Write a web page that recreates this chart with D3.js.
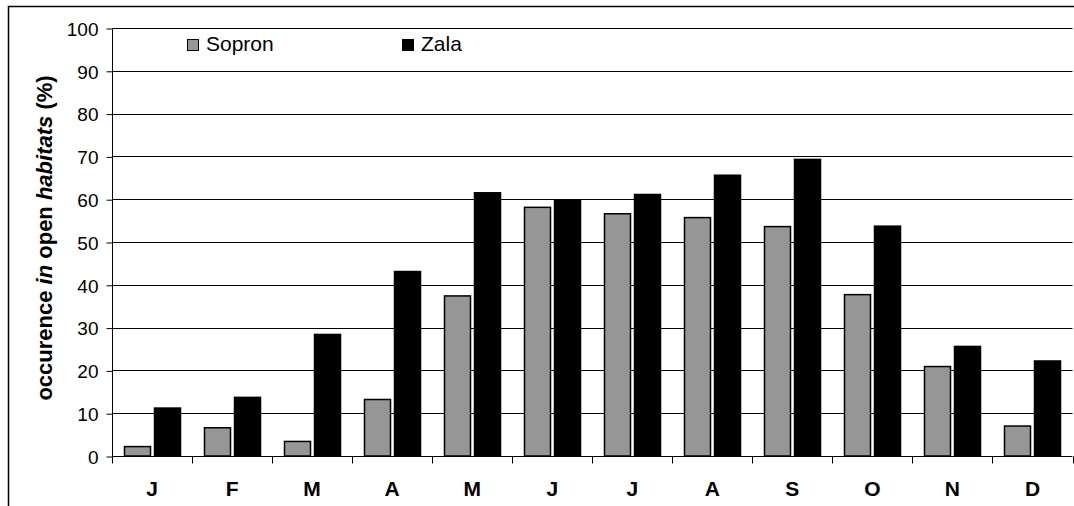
<!DOCTYPE html>
<html>
<head>
<meta charset="utf-8">
<script src="https://cdn.jsdelivr.net/npm/d3@7"></script>
<style>
    body { margin: 0; background: #fff; }
    text { font-family: "Liberation Sans", Arial, sans-serif; }
</style>
</head>
<body>
<svg id="chart"></svg>
<script>
(function () {

    // Data
    const months = ["J", "F", "M", "A", "M", "J", "J", "A", "S", "O", "N", "D"];
    const sopron = [2.2, 6.6, 3.4, 13.2, 37.4, 58.1, 56.6, 55.7, 53.6, 37.7, 20.9, 7.0];
    const zala = [11.2, 13.7, 28.4, 43.1, 61.5, 59.8, 61.1, 65.6, 69.3, 53.7, 25.6, 22.2];
    const seriesNames = ["Sopron", "Zala"];
    const seriesColors = ["#969696", "#000000"];
    const yTicks = [0, 10, 20, 30, 40, 50, 60, 70, 80, 90, 100];

    // Size & margins
    const width = 1074,
        height = 506;
    const margin = { left: 112, right: 1.5, top: 28, bottom: 50 };

    const svg = d3.select("#chart")
        .attr("width", width)
        .attr("height", height);

    // outer frame (cropped at right / bottom)
    svg.append("rect")
        .attr("x", 8.5)
        .attr("y", 6.5)
        .attr("width", 1080)
        .attr("height", 520)
        .attr("fill", "none")
        .attr("stroke", "#000")
        .attr("stroke-width", 1.5);

    const x = d3.scaleBand()
        .domain(d3.range(months.length))
        .range([margin.left, width - margin.right]);

    const y = d3.scaleLinear()
        .domain([0, 100])
        .range([height - margin.bottom, margin.top]);

    // gridlines
    svg.append("g")
        .selectAll("line")
        .data(yTicks.filter(d => d > 0))
        .enter().append("line")
        .attr("x1", margin.left)
        .attr("x2", width - margin.right)
        .attr("y1", d => Math.round(y(d)) + 0.5)
        .attr("y2", d => Math.round(y(d)) + 0.5)
        .attr("stroke", "#000")
        .attr("stroke-width", 1);

    // y axis
    const yAxis = svg.append("g")
        .attr("transform", "translate(" + (margin.left + 0.5) + ",0.5)")
        .call(d3.axisLeft(y).tickValues(yTicks).tickSize(6).tickPadding(8));
    yAxis.selectAll("path, line").attr("stroke", "#000");
    yAxis.select(".domain").attr("d", "M0," + y(100) + "V" + y(0));
    yAxis.selectAll("text")
        .attr("font-size", 19)
        .attr("fill", "#000")
        .attr("dy", "0.36em");

    // bars
    const inner = 26, gap = 4;
    const barG = svg.append("g");
    [sopron, zala].forEach((vals, s) => {
        barG.append("g")
            .selectAll("rect")
            .data(vals)
            .enter().append("rect")
            .attr("x", (d, i) => Math.round(x(i) + (x.bandwidth() - 2 * inner - gap) / 2 + s * (inner + gap)) + 0.5)
            .attr("y", d => y(d))
            .attr("width", inner)
            .attr("height", d => y(0) - y(d))
            .attr("fill", seriesColors[s])
            .attr("stroke", "#000")
            .attr("stroke-width", 1.5);
    });

    // x axis
    const xAxis = svg.append("g")
        .attr("transform", "translate(0," + (Math.round(y(0)) + 0.5) + ")");
    xAxis.append("line")
        .attr("x1", margin.left)
        .attr("x2", width - margin.right)
        .attr("stroke", "#000");
    xAxis.selectAll("line.tick")
        .data(d3.range(months.length + 1))
        .enter().append("line")
        .attr("class", "tick")
        .attr("x1", i => Math.round(i < months.length ? x(i) : width - margin.right) + 0.5)
        .attr("x2", i => Math.round(i < months.length ? x(i) : width - margin.right) + 0.5)
        .attr("y1", 0)
        .attr("y2", 7)
        .attr("stroke", "#000");
    xAxis.selectAll("text")
        .data(months)
        .enter().append("text")
        .attr("x", (d, i) => x(i) + x.bandwidth() / 2)
        .attr("y", 39)
        .attr("text-anchor", "middle")
        .attr("font-size", 21)
        .attr("font-weight", "bold")
        .text(d => d);

    // y axis title
    const title = svg.append("text")
        .attr("transform", "translate(52,238) rotate(-90)")
        .attr("text-anchor", "middle")
        .attr("font-size", 22)
        .attr("font-weight", "bold");
    [["occurence ", "normal"], ["in", "italic"], [" open ", "normal"], ["habitats", "italic"], [" (%)", "normal"]]
        .forEach(p => title.append("tspan").attr("font-style", p[1]).text(p[0]));

    // legend
    const legendX = [187, 402];
    const legend = svg.append("g");
    seriesNames.forEach((name, s) => {
        legend.append("rect")
            .attr("x", legendX[s] + 0.5)
            .attr("y", 39.5)
            .attr("width", 11)
            .attr("height", 11)
            .attr("fill", seriesColors[s])
            .attr("stroke", "#000");
        legend.append("text")
            .attr("x", legendX[s] + 19)
            .attr("y", 51)
            .attr("font-size", 21)
            .text(name);
    });
})();
</script>
</body>
</html>
